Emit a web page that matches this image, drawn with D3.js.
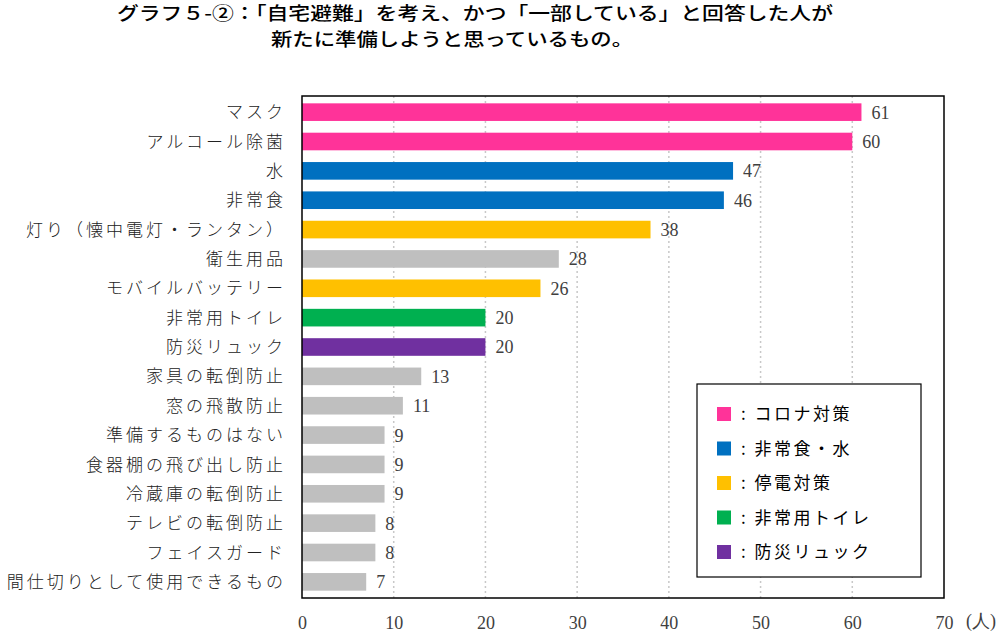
<!DOCTYPE html>
<html><head><meta charset="utf-8">
<script src="https://cdn.jsdelivr.net/npm/d3@7"></script>
<style>body{margin:0;background:#fff;}svg{display:block;}</style>
</head><body>
<script>
const categories = ["マスク","アルコール除菌","水","非常食","灯り（懐中電灯・ランタン）","衛生用品","モバイルバッテリー","非常用トイレ","防災リュック","家具の転倒防止","窓の飛散防止","準備するものはない","食器棚の飛び出し防止","冷蔵庫の転倒防止","テレビの転倒防止","フェイスガード","間仕切りとして使用できるもの"];
const values = [61,60,47,46,38,28,26,20,20,13,11,9,9,9,8,8,7];
const groups = ["コロナ","コロナ","食水","食水","停電","他","停電","トイレ","リュック","他","他","他","他","他","他","他","他"];
const legendKeys = ["コロナ","食水","停電","トイレ","リュック"];
const legendLabels = [": コロナ対策",": 非常食・水",": 停電対策",": 非常用トイレ",": 防災リュック"];
const groupColors = {"コロナ":"#FF3399","食水":"#0070C0","停電":"#FFC000","トイレ":"#00B050","リュック":"#7030A0","他":"#BFBFBF"};
const ticks = [0,10,20,30,40,50,60,70];
const titleLines = ["グラフ５-②：「自宅避難」を考え、かつ「一部している」と回答した人が","新たに準備しようと思っているもの。"];

const W=1000,H=635;
const svg=d3.select("body").append("svg").attr("width",W).attr("height",H);
const L=302,R=944,T=96,B=598;
const x=d3.scaleLinear().domain([0,70]).range([L,R]);
const y=d3.scaleBand().domain(categories).range([T,B]).paddingInner(0.4).paddingOuter(0.25);
const jp="'Noto Sans CJK JP','Noto Sans',sans-serif";
const serif="'Liberation Serif','DejaVu Serif',serif";

// title
svg.append("text").attr("x",117).attr("y",20).attr("font-family",jp).attr("font-size",18).attr("font-weight",500)
  .attr("textLength",716).attr("lengthAdjust","spacingAndGlyphs").text(titleLines[0]);
svg.append("text").attr("x",271).attr("y",46).attr("font-family",jp).attr("font-size",18).attr("font-weight",500)
  .attr("textLength",362).attr("lengthAdjust","spacingAndGlyphs").text(titleLines[1]);

// gridlines
svg.append("g").selectAll("line").data(ticks.slice(1,-1)).join("line")
  .attr("x1",d=>x(d)).attr("x2",d=>x(d)).attr("y1",T).attr("y2",B)
  .attr("stroke","#C8C8C8").attr("stroke-width",1.5).attr("stroke-dasharray","2,3");

// bars
svg.append("g").selectAll("rect").data(categories).join("rect")
  .attr("x",x(0)).attr("y",d=>y(d)).attr("height",y.bandwidth())
  .attr("width",(d,i)=>x(values[i])-x(0)).attr("fill",(d,i)=>groupColors[groups[i]]);

// value labels
svg.append("g").selectAll("text").data(categories).join("text")
  .attr("x",(d,i)=>x(values[i])+10).attr("y",d=>y(d)+y.bandwidth()/2).attr("dy","0.36em")
  .attr("font-family",serif).attr("font-size",18).attr("fill","#404040")
  .text((d,i)=>values[i]);

// category labels
svg.append("g").selectAll("text").data(categories).join("text")
  .attr("x",286).attr("y",d=>y(d)+y.bandwidth()/2).attr("dy","0.36em")
  .attr("text-anchor","end").attr("font-family",jp).attr("font-size",17).attr("font-weight",300)
  .attr("letter-spacing",3).attr("fill","#222").text(d=>d);

// border
svg.append("rect").attr("x",L).attr("y",T).attr("width",R-L).attr("height",B-T)
  .attr("fill","none").attr("stroke","#000").attr("stroke-width",1.5);

// x axis tick labels
const ax=svg.append("g").attr("transform",`translate(0,${B+15})`)
  .call(d3.axisBottom(x).tickValues(ticks).tickSize(0).tickFormat(d3.format("d")));
ax.select(".domain").remove();
ax.selectAll("text").attr("font-family",serif).attr("font-size",18).attr("fill","#404040");
svg.append("text").attr("x",966).attr("y",627).attr("font-family",serif).attr("font-size",18)
  .attr("fill","#404040").text("(人)");

// legend
const lg=svg.append("g");
lg.append("rect").attr("x",697).attr("y",384).attr("width",224).attr("height",193)
  .attr("fill","#fff").attr("stroke","#000").attr("stroke-width",1.2);
const ly=d3.scalePoint().domain(legendKeys).range([414,552]);
lg.selectAll("rect.k").data(legendKeys).join("rect").attr("class","k")
  .attr("x",717).attr("y",d=>ly(d)-7).attr("width",14).attr("height",14).attr("fill",d=>groupColors[d]);
lg.selectAll("text").data(legendKeys).join("text")
  .attr("x",741).attr("y",d=>ly(d)).attr("dy","0.36em")
  .attr("font-family",jp).attr("font-size",17).attr("letter-spacing",2.5).attr("fill","#000")
  .text((d,i)=>legendLabels[i]);
</script>
</body></html>
